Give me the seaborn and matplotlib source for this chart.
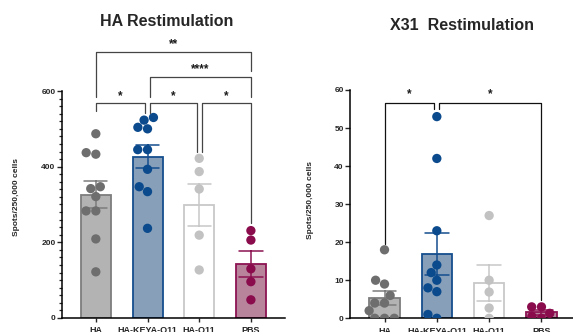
import numpy as np
import pandas as pd
import matplotlib
matplotlib.use('Agg')
import matplotlib.pyplot as plt
import seaborn as sns
from matplotlib.ticker import MultipleLocator

sns.set_style("ticks")
plt.rcParams['font.family'] = ['Liberation Sans', 'DejaVu Sans']
plt.rcParams['font.weight'] = 'bold'

# -----------------------------------------------------------------
# DATA
# -----------------------------------------------------------------
groups = ['HA', 'HA-KEYA-O11', 'HA-O11', 'PBS']

ha_restim_ha = [487, 433, 437, 347, 342, 321, 283, 283, 209, 122]
ha_restim_keya = [530, 523, 504, 500, 445, 445, 393, 347, 334, 237]
ha_restim_o11 = [422, 387, 341, 219, 127]
ha_restim_pbs = [231, 206, 130, 96, 48]

x31_restim_ha = [18, 10, 9, 6, 4, 4, 2, 0, 0, 0]
x31_restim_keya = [53, 42, 23, 14, 12, 10, 8, 7, 1, 0]
x31_restim_o11 = [27, 10, 6.9, 2.7, 0]
x31_restim_pbs = [3, 3, 1.3, 0.5, 0]

dot_colors = ['#6e6e6e', '#0b4a8c', '#c2c2c2', '#8a0c4c']
fill_colors = ['#b3b3b3', '#7f9fc1', '#ffffff', '#c07b9c']
edge_colors = ['#7d7d7d', '#154e8e', '#c8c8c8', '#8c1452']

# significance brackets: (x1, x2, y, leg1 end, leg2 end, label)
ha_brackets = [
    (0, 3, 703, 584, 653, '**'),
    (1.05, 3, 637, 584, 584, '****'),
    (0, 0.95, 567, 548, 542, '*'),
    (1.05, 1.95, 567, 542, 439, '*'),
    (2.05, 3, 567, 439, 251, '*'),
]
x31_brackets = [
    (0, 0.95, 56.7, 19.6, 55, '*'),
    (1.05, 3, 56.7, 55, 4.7, '*'),
]


def make_df(vals):
    rows = []
    for g, v in zip(groups, vals):
        rows += [(g, x) for x in v]
    return pd.DataFrame(rows, columns=['group', 'value'])


def draw_panel(ax, df, ylim, major, minor, brackets, star_off, line_col):
    sns.barplot(data=df, x='group', y='value', hue='group', order=groups,
                palette=fill_colors, errorbar='se', capsize=0.45, width=0.58,
                err_kws={'linewidth': 1.1}, legend=False, ax=ax)
    for patch, ec in zip(ax.patches, edge_colors):
        patch.set_edgecolor(ec)
        patch.set_linewidth(1.3)
    for line, ec in zip(ax.lines, edge_colors):
        line.set_color(ec)
    sns.swarmplot(data=df, x='group', y='value', hue='group', order=groups,
                  palette=dot_colors, size=6.7, legend=False, ax=ax, zorder=5)

    for x1, x2, y, e1, e2, lab in brackets:
        ax.plot([x1, x1, x2, x2], [e1, y, y, e2], color=line_col, lw=0.9,
                clip_on=False, zorder=6)
        ax.text((x1 + x2) / 2, y + star_off, lab, ha='center', va='center',
                fontsize=8.5, color='#1a1a1a', clip_on=False)

    ax.set_xlim(-0.66, 3.66)
    ax.set_ylim(*ylim)
    ax.yaxis.set_major_locator(MultipleLocator(major))
    if minor:
        ax.yaxis.set_minor_locator(MultipleLocator(minor))
    ax.tick_params(axis='y', which='major', length=3.5, width=1.0, labelsize=6, pad=1)
    ax.tick_params(axis='y', which='minor', length=2.2, width=0.9)
    ax.tick_params(axis='x', length=3, width=1.0, labelsize=6.5, pad=3)
    ax.set_xlabel('')
    ax.set_ylabel('Spots/250,000 cells', fontsize=6, fontweight='bold')
    for s in ['left', 'bottom']:
        ax.spines[s].set_linewidth(1.1)
        ax.spines[s].set_color('black')
    sns.despine(ax=ax)


fig = plt.figure(figsize=(5.73, 3.32), dpi=100)
ax1 = fig.add_axes([0.1077, 0.0422, 0.3897, 0.6837])
ax2 = fig.add_axes([0.6108, 0.0413, 0.3944, 0.6877])

draw_panel(ax1, make_df([ha_restim_ha, ha_restim_keya, ha_restim_o11, ha_restim_pbs]),
           (0, 600), 200, 20, ha_brackets, 20, '#454545')
draw_panel(ax2, make_df([x31_restim_ha, x31_restim_keya, x31_restim_o11, x31_restim_pbs]),
           (0, 60), 10, None, x31_brackets, 2.1, '#111111')

ax1.yaxis.set_label_coords(-0.187, 0.533)
ax2.yaxis.set_label_coords(-0.159, 0.52)

fig.text(0.291, 0.934, 'HA Restimulation', ha='center', va='center',
         fontsize=11.5, fontweight='bold')
fig.text(0.806, 0.922, 'X31  Restimulation', ha='center', va='center',
         fontsize=11.5, fontweight='bold')

fig.savefig('out.png', dpi=100)
